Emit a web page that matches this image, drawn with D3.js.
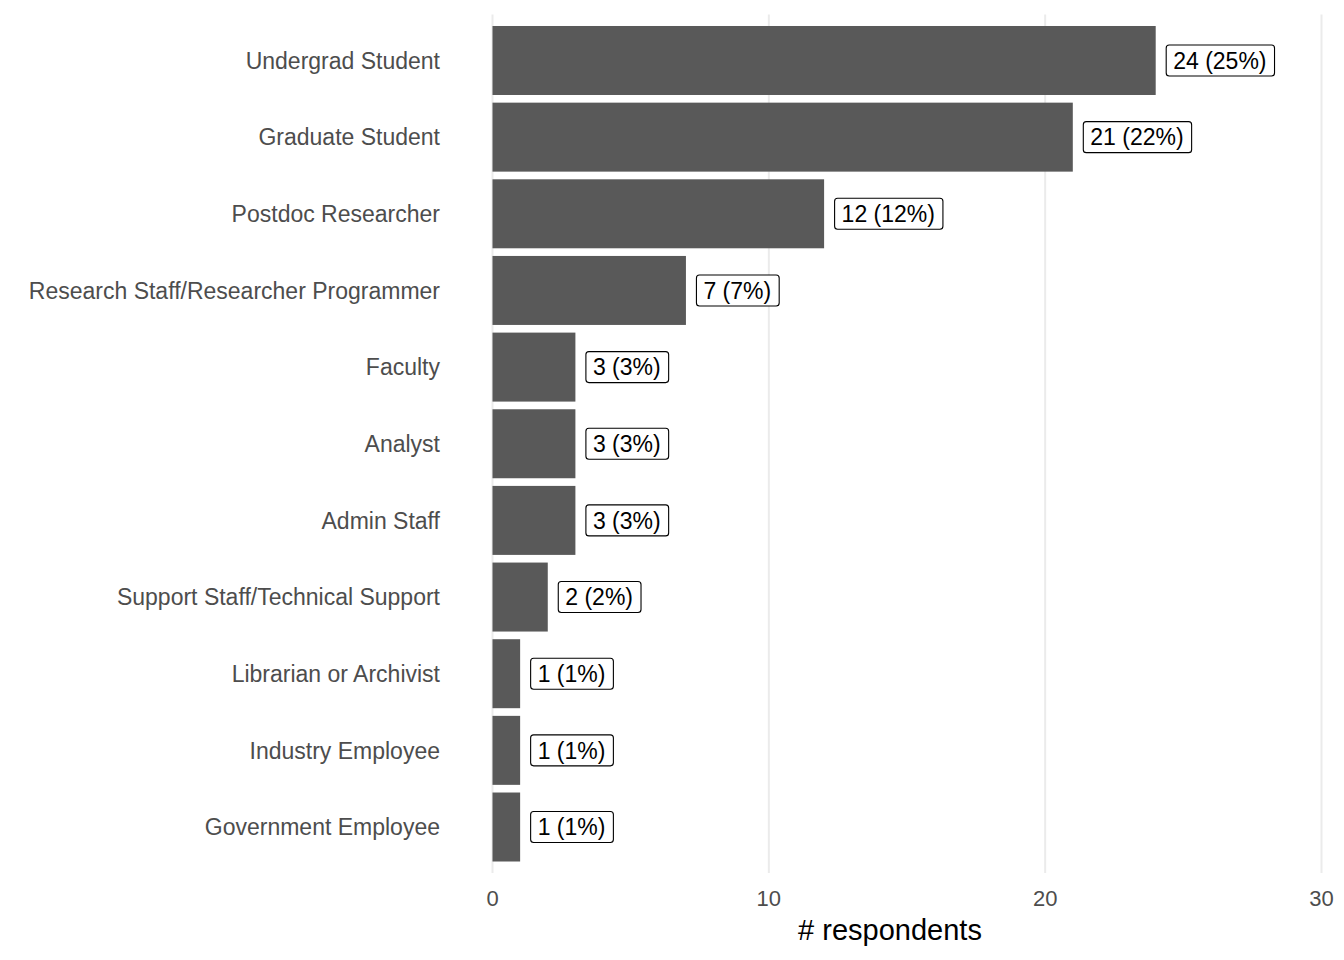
<!DOCTYPE html>
<html>
<head>
<meta charset="utf-8">
<script src="https://cdn.jsdelivr.net/npm/d3@7"></script>
<style>
  body { margin: 0; background: #fff; }
  text { font-family: "Liberation Sans", Arial, sans-serif; }
</style>
</head>
<body>
<svg id="chart" width="1344" height="960"></svg>
<script>
// data
const roles = ["Undergrad Student", "Graduate Student", "Postdoc Researcher",
  "Research Staff/Researcher Programmer", "Faculty", "Analyst", "Admin Staff",
  "Support Staff/Technical Support", "Librarian or Archivist",
  "Industry Employee", "Government Employee"];
const counts = [24, 21, 12, 7, 3, 3, 3, 2, 1, 1, 1];
const percents = [25, 22, 12, 7, 3, 3, 3, 2, 1, 1, 1];
const xTicks = [0, 10, 20, 30];

const svg = d3.select("#chart");
const panel = {left: 492.5, right: 1321.5, top: 14.5, bottom: 873};

const x = d3.scaleLinear().domain([0, 30]).range([panel.left, panel.right]);

// ggplot-style discrete axis: 0.6 expansion each side, bars 0.9 wide
const step = (panel.bottom - panel.top) / (roles.length - 1 + 1.2);
const y = d3.scaleBand()
  .domain(roles)
  .range([panel.top + 0.15 * step, panel.bottom - 0.15 * step])
  .paddingInner(0.1);

// vertical gridlines
svg.append("g").selectAll("line")
  .data(xTicks)
  .join("line")
  .attr("x1", d => x(d)).attr("x2", d => x(d))
  .attr("y1", panel.top).attr("y2", panel.bottom)
  .attr("stroke", "#ebebeb")
  .attr("stroke-width", 2);

// bars
svg.append("g").selectAll("rect")
  .data(roles)
  .join("rect")
  .attr("x", x(0))
  .attr("y", d => y(d))
  .attr("width", (d, i) => x(counts[i]) - x(0))
  .attr("height", y.bandwidth())
  .attr("fill", "#595959");

// value labels in rounded boxes
const labels = svg.append("g").selectAll("g")
  .data(roles)
  .join("g")
  .attr("transform", (d, i) => `translate(${x(counts[i]) + 10},${y(d) + y.bandwidth() / 2})`);

labels.append("text")
  .attr("x", 7.5)
  .attr("dy", "0.36em")
  .attr("font-size", 23)
  .attr("fill", "#000")
  .text((d, i) => `${counts[i]} (${percents[i]}%)`);

labels.each(function() {
  const g = d3.select(this);
  const bb = g.select("text").node().getBBox();
  g.insert("rect", "text")
    .attr("x", 0.5)
    .attr("y", -15.5)
    .attr("width", bb.width + 15)
    .attr("height", 31)
    .attr("rx", 3)
    .attr("fill", "#fff")
    .attr("stroke", "#000")
    .attr("stroke-width", 1.1);
});

// category labels
svg.append("g").selectAll("text")
  .data(roles)
  .join("text")
  .attr("x", 440)
  .attr("y", d => y(d) + y.bandwidth() / 2)
  .attr("dy", "0.36em")
  .attr("text-anchor", "end")
  .attr("font-size", 23)
  .attr("fill", "#4d4d4d")
  .text(d => d);

// x tick labels
svg.append("g").selectAll("text")
  .data(xTicks)
  .join("text")
  .attr("x", d => x(d))
  .attr("y", 906)
  .attr("text-anchor", "middle")
  .attr("font-size", 22)
  .attr("fill", "#4d4d4d")
  .text(d => d);

// x axis title
svg.append("text")
  .attr("x", 890)
  .attr("y", 940)
  .attr("text-anchor", "middle")
  .attr("font-size", 29)
  .attr("fill", "#000")
  .text("# respondents");
</script>
</body>
</html>
